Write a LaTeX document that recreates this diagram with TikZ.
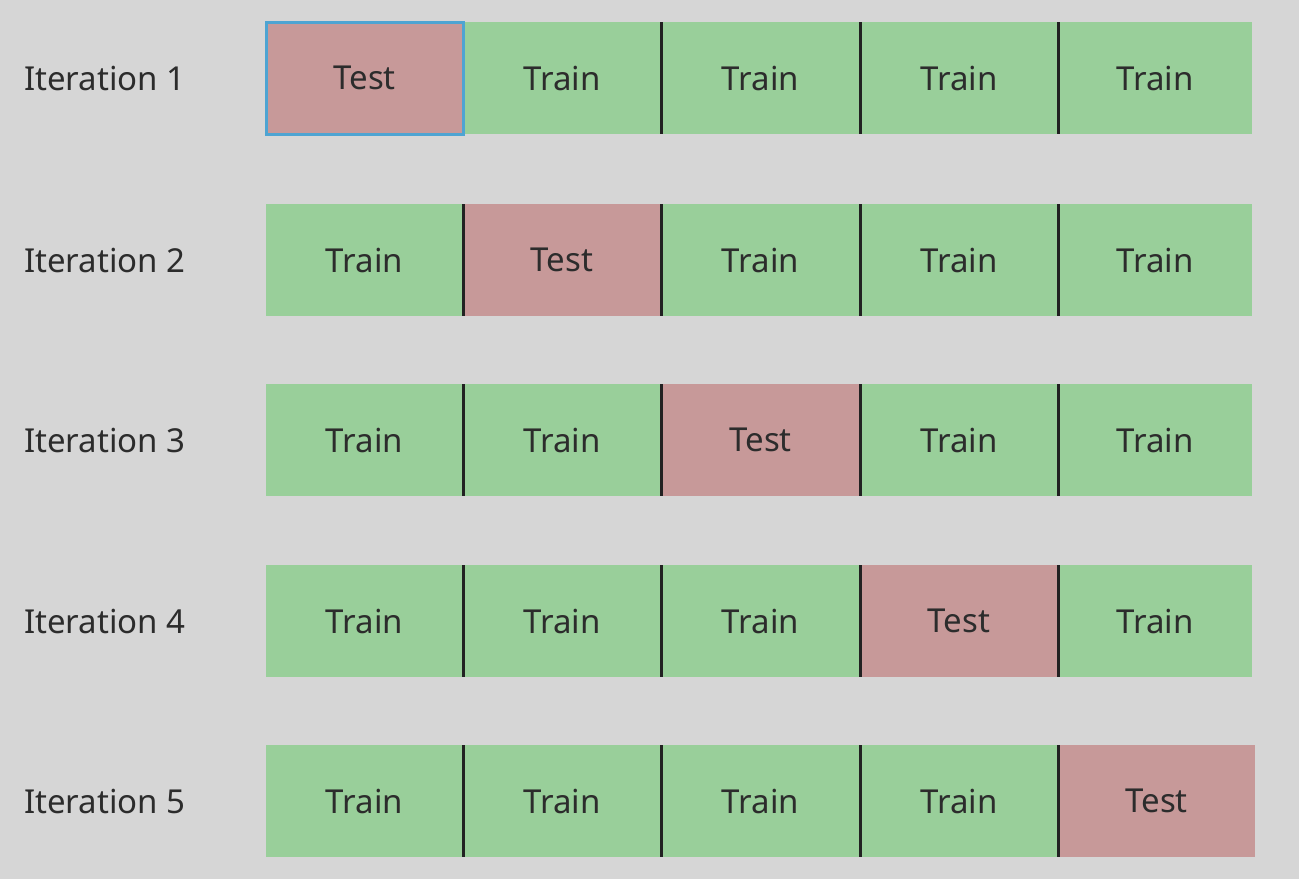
\documentclass[tikz,border=0pt]{standalone}
\usepackage{fontspec}
\setmainfont{Noto Sans}
\definecolor{bg}{RGB}{214,214,214}
\definecolor{traingreen}{RGB}{153,207,154}
\definecolor{testred}{RGB}{199,153,153}
\definecolor{selblue}{RGB}{78,164,210}
\definecolor{txt}{RGB}{44,44,44}
\definecolor{sep}{RGB}{34,34,34}
\begin{document}
\begin{tikzpicture}[x=1pt,y=-1pt,
  cellbase/.style={anchor=north west, minimum height=112pt, inner sep=0pt, outer sep=0pt,
    text=txt, font=\fontsize{33}{40}\selectfont},
  traincell/.style={cellbase, fill=traingreen},
  testcell/.style={cellbase, fill=testred},
  iterlabel/.style={anchor=west, inner sep=0pt, text=txt, font=\fontsize{33}{40}\selectfont},
  sepline/.style={draw=sep, line width=3pt},
  selborder/.style={draw=selblue, line width=3pt}]
\fill[bg] (0,0) rectangle (1299,879);
\useasboundingbox (0,0) rectangle (1299,879);
\foreach \r/\y in {1/22,2/204,3/384,4/565,5/745}{
  \foreach \k/\x/\w in {1/266/197,2/463/198,3/661/199,4/860/198,5/1058/194}{
    \ifnum\k=\r
      \def\kind{testcell}\def\lbl{Test}
      \ifnum\r=5 \def\w{197}\fi
    \else
      \def\kind{traincell}\def\lbl{Train}
    \fi
    \node[\kind, minimum width=\w pt] (c-\r-\k) at (\x,\y) {\lbl};
  }
  \node[iterlabel] (it-\r) at (24,\y+56) {Iteration \r};
}
\foreach \r in {1,...,5}{
  \foreach \k in {2,...,5}{
    \ifnum\r=1 \ifnum\k=2 \else
      \draw[sepline] (c-\r-\k.north west) -- (c-\r-\k.south west);
    \fi
    \else
      \draw[sepline] (c-\r-\k.north west) -- (c-\r-\k.south west);
    \fi
  }
}
\draw[selborder] (c-1-1.north west) rectangle (c-1-1.south east);
\end{tikzpicture}
\end{document}
